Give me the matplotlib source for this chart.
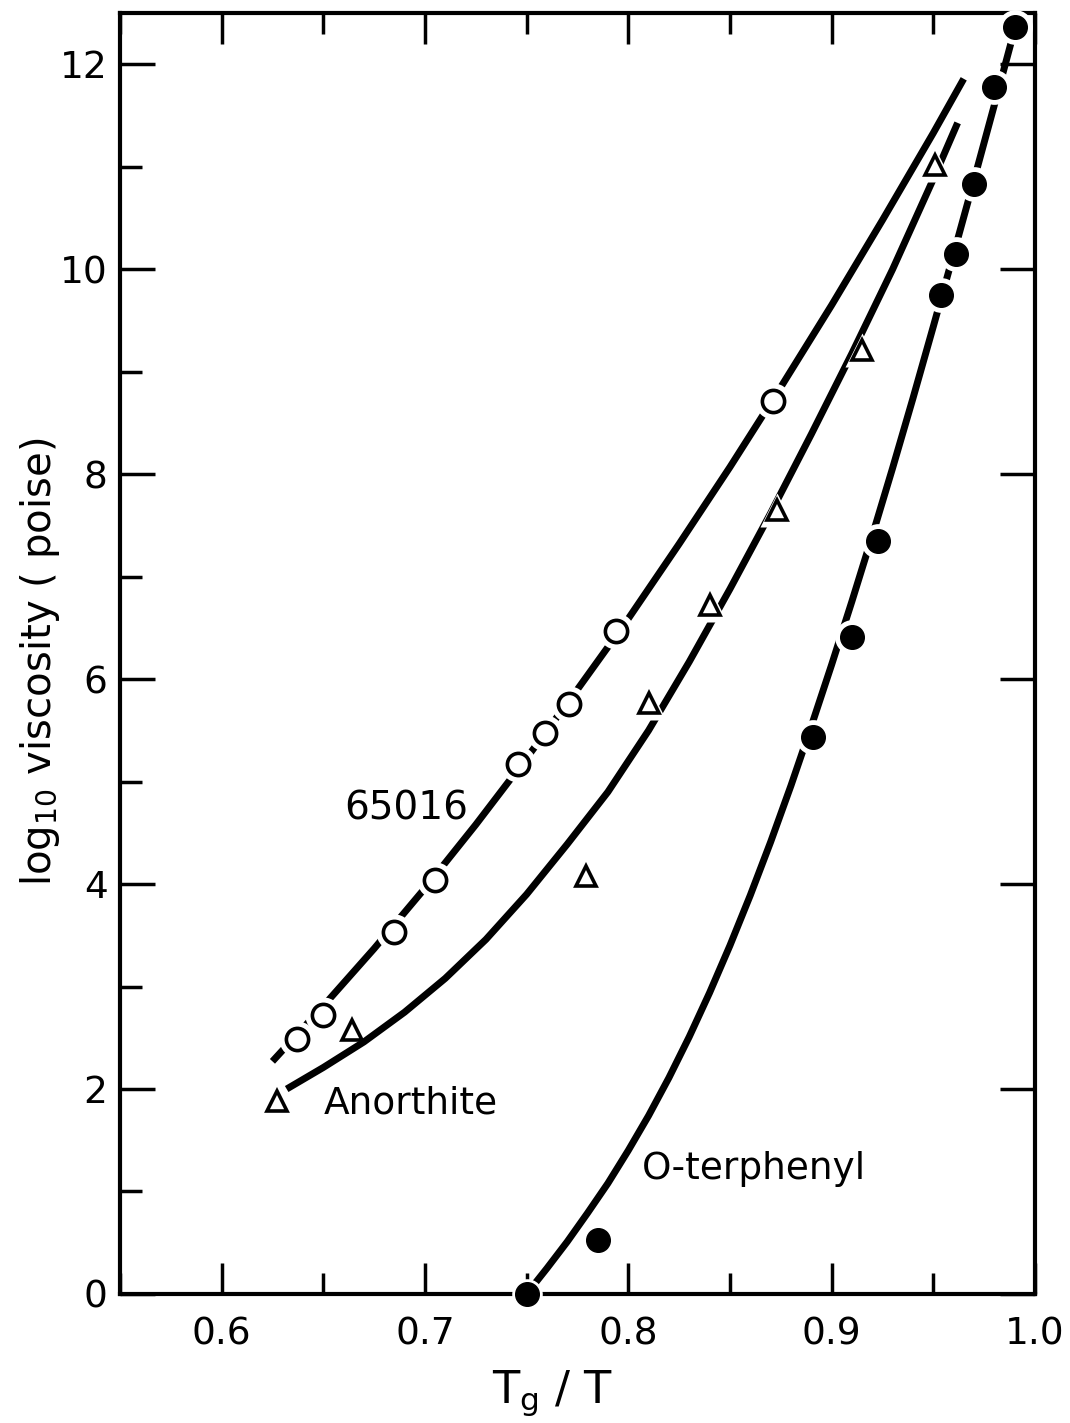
import matplotlib.pyplot as plt
from matplotlib.ticker import MultipleLocator

# measured points, glass 65016 (open circles)
x_65016 = [0.637, 0.650, 0.685, 0.705, 0.746, 0.759, 0.771, 0.794, 0.871]
y_65016 = [2.49, 2.72, 3.53, 4.04, 5.17, 5.47, 5.76, 6.47, 8.72]

# anorthite (open triangles)
x_anor = [0.627, 0.664, 0.779, 0.810, 0.840, 0.873, 0.915, 0.951]
y_anor = [1.88, 2.58, 4.08, 5.77, 6.72, 7.65, 9.21, 11.02]

# o-terphenyl (filled circles)
x_otp = [0.750, 0.785, 0.891, 0.910, 0.923, 0.954, 0.961, 0.970, 0.980, 0.990]
y_otp = [0.00, 0.53, 5.44, 6.41, 7.35, 9.75, 10.15, 10.83, 11.78, 12.37]

# hand-drawn curves
curve_x_65016 = [0.625, 0.650, 0.675, 0.700, 0.725, 0.750, 0.775, 0.800,
                 0.825, 0.850, 0.875, 0.900, 0.925, 0.950, 0.965]
curve_y_65016 = [2.27, 2.81, 3.37, 3.96, 4.58, 5.23, 5.90, 6.59,
                 7.32, 8.07, 8.85, 9.65, 10.48, 11.33, 11.86]

curve_x_anor = [0.632, 0.650, 0.670, 0.690, 0.710, 0.730, 0.750, 0.770, 0.790,
                0.810, 0.830, 0.850, 0.870, 0.890, 0.910, 0.930, 0.950, 0.962]
curve_y_anor = [2.00, 2.21, 2.46, 2.75, 3.08, 3.46, 3.90, 4.39, 4.90,
                5.50, 6.17, 6.88, 7.62, 8.39, 9.18, 10.00, 10.88, 11.43]

curve_x_otp = [0.750, 0.760, 0.770, 0.780, 0.790, 0.800, 0.810, 0.820, 0.830,
               0.840, 0.850, 0.860, 0.870, 0.880, 0.890, 0.900, 0.910, 0.920,
               0.930, 0.940, 0.950, 0.960, 0.970, 0.980, 0.990]
curve_y_otp = [0.00, 0.25, 0.51, 0.79, 1.08, 1.40, 1.74, 2.11, 2.51,
               2.94, 3.40, 3.89, 4.41, 4.96, 5.54, 6.14, 6.76, 7.40,
               8.06, 8.74, 9.44, 10.15, 10.87, 11.60, 12.34]

fig = plt.figure(figsize=(10.7, 14.23), dpi=100)
ax = fig.add_axes([0.1121, 0.0907, 0.8551, 0.900])

lw = 5
for cx, cy in [(curve_x_65016, curve_y_65016), (curve_x_anor, curve_y_anor),
               (curve_x_otp, curve_y_otp)]:
    ax.plot(cx, cy, color='black', lw=lw, solid_capstyle='butt',
            solid_joinstyle='round', zorder=2)

# white halos break the curves around the symbols sitting on them
ax.plot(x_65016, y_65016, 'o', ms=26, color='white', mec='none', zorder=3, clip_on=False)
ax.plot(x_anor[3:], y_anor[3:], '^', ms=24, color='white', mec='none', zorder=3, clip_on=False)
ax.plot(x_otp[2:], y_otp[2:], 'o', ms=25, color='white', mec='none', zorder=3, clip_on=False)
ax.plot(x_otp[:1], y_otp[:1], 'o', ms=22, color='white', mec='none', zorder=3, clip_on=False)

ax.plot(x_65016, y_65016, 'o', ms=16, mfc='white', mec='black', mew=2.6, zorder=4, clip_on=False)
ax.plot(x_anor, y_anor, '^', ms=14, mfc='white', mec='black', mew=2.6, zorder=4, clip_on=False)
ax.plot(x_otp, y_otp, 'o', ms=17, color='black', zorder=4, clip_on=False)

ax.text(0.691, 4.63, '65016', fontsize=28, ha='center', va='baseline')
ax.text(0.693, 1.76, 'Anorthite', fontsize=27, ha='center', va='baseline')
ax.text(0.862, 1.12, 'O-terphenyl', fontsize=27, ha='center', va='baseline')

ax.set_xlim(0.55, 1.0)
ax.set_ylim(0, 12.5)

ax.xaxis.set_major_locator(MultipleLocator(0.1))
ax.xaxis.set_minor_locator(MultipleLocator(0.05))
ax.yaxis.set_major_locator(MultipleLocator(2))
ax.yaxis.set_minor_locator(MultipleLocator(1))
ax.set_xticks([0.6, 0.7, 0.8, 0.9, 1.0])
ax.set_xticklabels(['0.6', '0.7', '0.8', '0.9', '1.0'])

for s in ax.spines.values():
    s.set_linewidth(3)

ax.tick_params(axis='both', which='both', direction='in', top=True, right=True,
               width=2.5, labelsize=27)
ax.tick_params(axis='y', which='major', length=25, pad=9)
ax.tick_params(axis='y', which='minor', length=16, right=False)
ax.tick_params(axis='x', which='major', length=22, pad=16)
ax.tick_params(axis='x', which='minor', length=15)

ax.set_ylabel(r'log$_{10}$ viscosity ( poise)', fontsize=29)
ax.yaxis.set_label_coords(-0.063, 0.494)
ax.set_xlabel(r'T$_\mathrm{g}$ / T', fontsize=32)
ax.xaxis.set_label_coords(0.473, -0.058)

fig.savefig('out.png', dpi=100)
